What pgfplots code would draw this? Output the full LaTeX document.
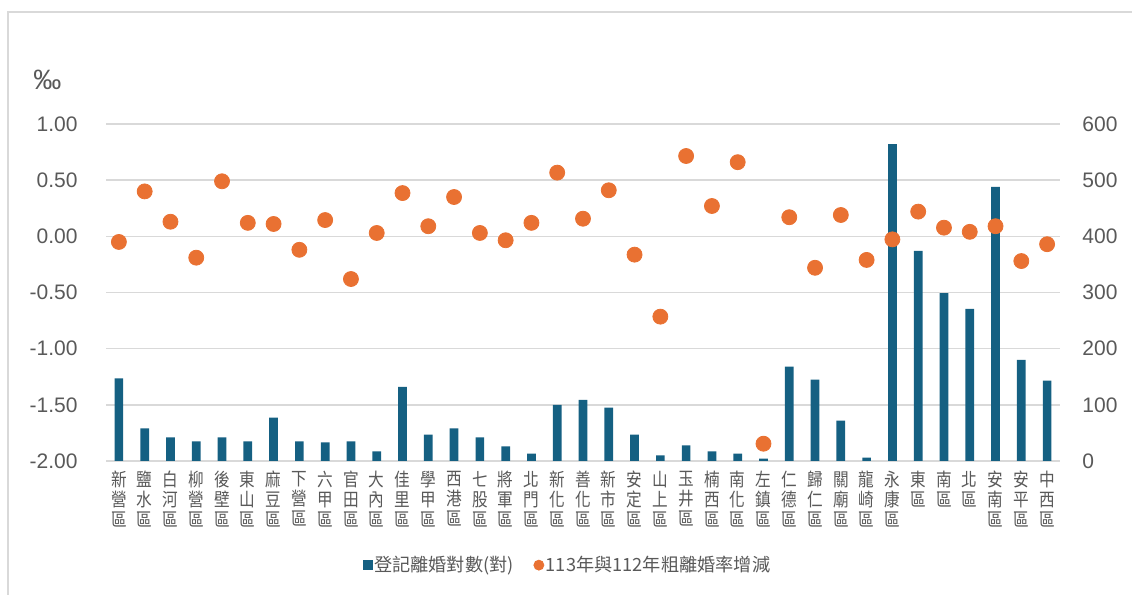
\documentclass[border=0pt]{standalone}
\usepackage{pgfplots}
\pgfplotsset{compat=1.18}
\usepackage{pgfplotstable}
\usepackage{fontspec}
\setmainfont{Liberation Sans}
\newfontfamily\cjk{Noto Sans CJK TC}
\newfontfamily\cjknarrow[FakeStretch=0.85]{Noto Sans CJK TC}
\definecolor{barblue}{HTML}{156082}
\definecolor{dotorange}{HTML}{E97132}
\definecolor{gridgray}{HTML}{D9D9D9}
\definecolor{txtgray}{HTML}{595959}

\pgfplotstableread{
x bars rate
0 147 -0.05
1 58 0.40
2 42 0.13
3 35 -0.19
4 42 0.49
5 35 0.12
6 77 0.11
7 35 -0.12
8 33 0.145
9 35 -0.38
10 17 0.03
11 132 0.385
12 47 0.09
13 58 0.35
14 42 0.03
15 26 -0.035
16 13 0.12
17 100 0.567
18 109 0.157
19 95 0.41
20 47 -0.163
21 10 -0.715
22 28 0.715
23 17 0.27
24 13 0.66
25 4 -1.846
26 168 0.17
27 145 -0.28
28 72 0.19
29 6 -0.21
30 564 -0.027
31 374 0.22
32 299 0.077
33 271 0.04
34 488 0.09
35 180 -0.22
36 143 -0.07
}\data

\begin{document}
\begin{tikzpicture}
\path[use as bounding box] (0,0) rectangle (566pt,297.5pt);
\draw[gridgray, line width=0.75pt] (4pt,0pt) -- (4pt,291.5pt) -- (566pt,291.5pt);

\begin{axis}[
  at={(53pt,67pt)}, anchor=south west, scale only axis,
  width=477pt, height=168.5pt,
  xmin=-0.5, xmax=36.5, ymin=0, ymax=600,
  ytick={0,100,200,300,400,500,600},
  xtick={0,...,36},
  xticklabels={{新\\營\\區},{鹽\\水\\區},{白\\河\\區},{柳\\營\\區},{後\\壁\\區},{東\\山\\區},{麻\\豆\\區},{下\\營\\區},{六\\甲\\區},{官\\田\\區},{大\\內\\區},{佳\\里\\區},{學\\甲\\區},{西\\港\\區},{七\\股\\區},{將\\軍\\區},{北\\門\\區},{新\\化\\區},{善\\化\\區},{新\\市\\區},{安\\定\\區},{山\\上\\區},{玉\\井\\區},{楠\\西\\區},{南\\化\\區},{左\\鎮\\區},{仁\\德\\區},{歸\\仁\\區},{關\\廟\\區},{龍\\崎\\區},{永\\康\\區},{東\\區},{南\\區},{北\\區},{安\\南\\區},{安\\平\\區},{中\\西\\區}},
  axis line style={draw=none},
  major tick length=0pt,
  ymajorgrids, grid style={gridgray, line width=0.75pt},
  yticklabel pos=right,
  /pgf/number format/assume math mode=true,
  yticklabel style={anchor=west, inner sep=0pt, xshift=11pt, font=\fontsize{10.5pt}{12pt}\selectfont, text=txtgray},
  xticklabel style={anchor=north, align=center, inner sep=0pt, yshift=-5pt, font=\cjknarrow\fontsize{9.2pt}{10pt}\selectfont, text=txtgray},
]
\addplot[ybar, bar width=4.35pt, fill=barblue, draw=none] table[x=x,y=bars]{\data};
\end{axis}

\begin{axis}[
  at={(53pt,67pt)}, anchor=south west, scale only axis,
  width=477pt, height=168.5pt,
  xmin=-0.5, xmax=36.5, ymin=-2, ymax=1,
  ytick={-2,-1.5,-1,-0.5,0,0.5,1},
  hide x axis,
  axis line style={draw=none},
  major tick length=0pt,
  /pgf/number format/assume math mode=true,
  yticklabel style={anchor=east, inner sep=0pt, xshift=-14pt, font=\fontsize{10.5pt}{12pt}\selectfont, text=txtgray,
    /pgf/number format/fixed, /pgf/number format/fixed zerofill, /pgf/number format/precision=2},
  legend style={at={(0.484,-0.309)}, anchor=center, draw=none, fill=none, legend columns=2,
    font=\cjk\fontsize{9.1pt}{10pt}\selectfont, text=txtgray,
    /tikz/every even column/.append style={column sep=9pt},
    nodes={inner sep=1pt}},
  legend image code/.code={\draw[#1] plot coordinates {(0pt,0pt)};},
]
\addlegendimage{only marks, mark=square*, mark size=2.25pt, color=barblue}
\addlegendentry{登記離婚對數(對)}
\addplot[only marks, mark=*, mark size=3.75pt, mark options={fill=dotorange, draw=dotorange}, color=dotorange,
  legend image post style={mark size=2.5pt}] table[x=x,y=rate]{\data};
\addlegendentry{113年與112年粗離婚率增減}
\end{axis}

\node[anchor=west, inner sep=0pt, text=txtgray, font=\fontsize{14pt}{16pt}\selectfont] at (16.5pt,257.5pt) {‰};
\end{tikzpicture}
\end{document}
